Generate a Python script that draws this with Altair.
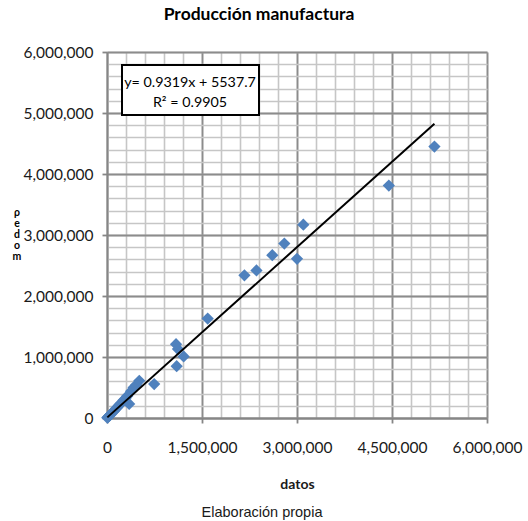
import altair as alt
import pandas as pd

# Observed values (datos) and model output (modelo)
datos = [5170000, 4450000, 3100000, 3000000, 2800000, 2610000, 2360000, 2170000,
         1590000, 1210000, 1120000, 1090000, 1100000, 745000, 510000, 460000,
         420000, 380000, 350000, 320000, 290000, 260000, 230000, 200000, 175000,
         150000, 130000, 110000, 90000, 70000, 55000, 40000, 25000, 12000, 5000]
modelo = [4450000, 3810000, 3170000, 2610000, 2860000, 2670000, 2420000, 2340000,
          1630000, 1010000, 1130000, 1210000, 850000, 556000, 610000, 540000,
          500000, 440000, 230000, 360000, 320000, 290000, 250000, 220000, 190000,
          160000, 140000, 115000, 95000, 70000, 55000, 40000, 25000, 12000, 5000]

# Linear trend fitted to the series
pendiente = 0.9319
intercepto = 5537.7
r2 = 0.9905

# Axis ticks and grid steps
ticks_x = [0, 1500000, 3000000, 4500000, 6000000]
ticks_y = [0, 1000000, 2000000, 3000000, 4000000, 5000000, 6000000]
rejilla_x = list(range(0, 6000001, 300000))
rejilla_y = list(range(0, 6000001, 200000))

puntos = pd.DataFrame({"datos": datos, "modelo": modelo})
extremos = pd.DataFrame({"datos": [min(datos), max(datos)]})
uno = pd.DataFrame({"k": [0]})

FONT = "Lato"
sx = alt.Scale(domain=[0, 6000000], nice=False)
sy = alt.Scale(domain=[0, 6000000], nice=False)

# Light minor grid
menor = alt.Chart(puntos).mark_point(opacity=0).encode(
    x=alt.X("datos:Q", scale=sx, axis=alt.Axis(
        orient="top", values=rejilla_x, grid=True, gridColor="#C6C6C6", gridWidth=1.6,
        labels=False, ticks=False, domain=False, title=None)),
    y=alt.Y("modelo:Q", scale=sy, axis=alt.Axis(
        orient="right", values=rejilla_y, grid=True, gridColor="#C6C6C6", gridWidth=1.6,
        labels=False, ticks=False, domain=False, title=None)),
)

# Data points with the main axes and major grid
dispersion = alt.Chart(puntos).mark_point(
    shape="diamond", filled=True, size=150, color="#4F81BD", opacity=1
).encode(
    x=alt.X("datos:Q", scale=sx, axis=alt.Axis(
        orient="bottom", values=ticks_x, format=",d", grid=True, gridColor="#8C8C8C",
        gridWidth=1.8, domainColor="#868686", domainWidth=1.8, tickColor="#868686",
        tickWidth=1.8, tickSize=5, labelPadding=17, labelFlush=False, labelFont=FONT,
        labelFontSize=15.5, labelColor="#1a1a1a", title="datos", titleFont=FONT,
        titleFontSize=14, titleFontWeight="bold", titleColor="#1a1a1a", titlePadding=22)),
    y=alt.Y("modelo:Q", scale=sy, axis=alt.Axis(
        orient="left", values=ticks_y, format=",d", grid=True, gridColor="#8C8C8C",
        gridWidth=1.8, domainColor="#868686", domainWidth=1.8, tickColor="#868686",
        tickWidth=1.8, tickSize=5, labelPadding=9, labelFlush=False, labelFont=FONT,
        labelFontSize=15.5, labelColor="#1a1a1a", title=None)),
)

# Trend line drawn from the fitted equation
tendencia = alt.Chart(extremos).transform_calculate(
    modelo=f"datum.datos * {pendiente} + {intercepto}"
).mark_line(color="black", strokeWidth=2).encode(
    x=alt.X("datos:Q", scale=sx, axis=None),
    y=alt.Y("modelo:Q", scale=sy, axis=None),
)

caja = alt.Chart(uno).mark_rect(fill="white", stroke="black", strokeWidth=2).encode(
    x=alt.value(15), x2=alt.value(152), y=alt.value(13), y2=alt.value(63)
)
ecuacion = alt.Chart(uno).mark_text(
    font=FONT, fontSize=14.3, color="black", lineBreak="\n", lineHeight=20, baseline="middle"
).encode(
    x=alt.value(83), y=alt.value(31),
    text=alt.value(f"y= {pendiente}x + {intercepto}\nR² = {r2}"),
)

titulo_y = alt.Chart(uno).mark_text(
    font=FONT, fontSize=10.5, fontWeight="bold", color="black",
    lineBreak="\n", lineHeight=11, baseline="middle"
).encode(x=alt.value(-90), y=alt.value(161), text=alt.value("ρ\ne\nd\no\nm"))

fuente = alt.Chart(uno).mark_text(font="Liberation Sans", fontSize=14.5, color="#1a1a1a").encode(
    x=alt.value(155), y=alt.value(461), text=alt.value("Elaboración propia")
)

chart = alt.layer(
    menor, dispersion, tendencia, caja, ecuacion, titulo_y, fuente
).resolve_axis(x="independent", y="independent").properties(
    width=380, height=366,
    title=alt.TitleParams("Producción manufactura", font=FONT, fontSize=17.5,
                          fontWeight="bold", color="black", anchor="middle",
                          offset=22, dx=-38),
    autosize=alt.AutoSizeParams(type="none"),
    padding={"left": 107, "top": 52, "right": 41, "bottom": 103},
).configure_view(strokeWidth=0).configure(background="white")

chart.save("out.html", embed_options={"renderer": "svg", "actions": False})
